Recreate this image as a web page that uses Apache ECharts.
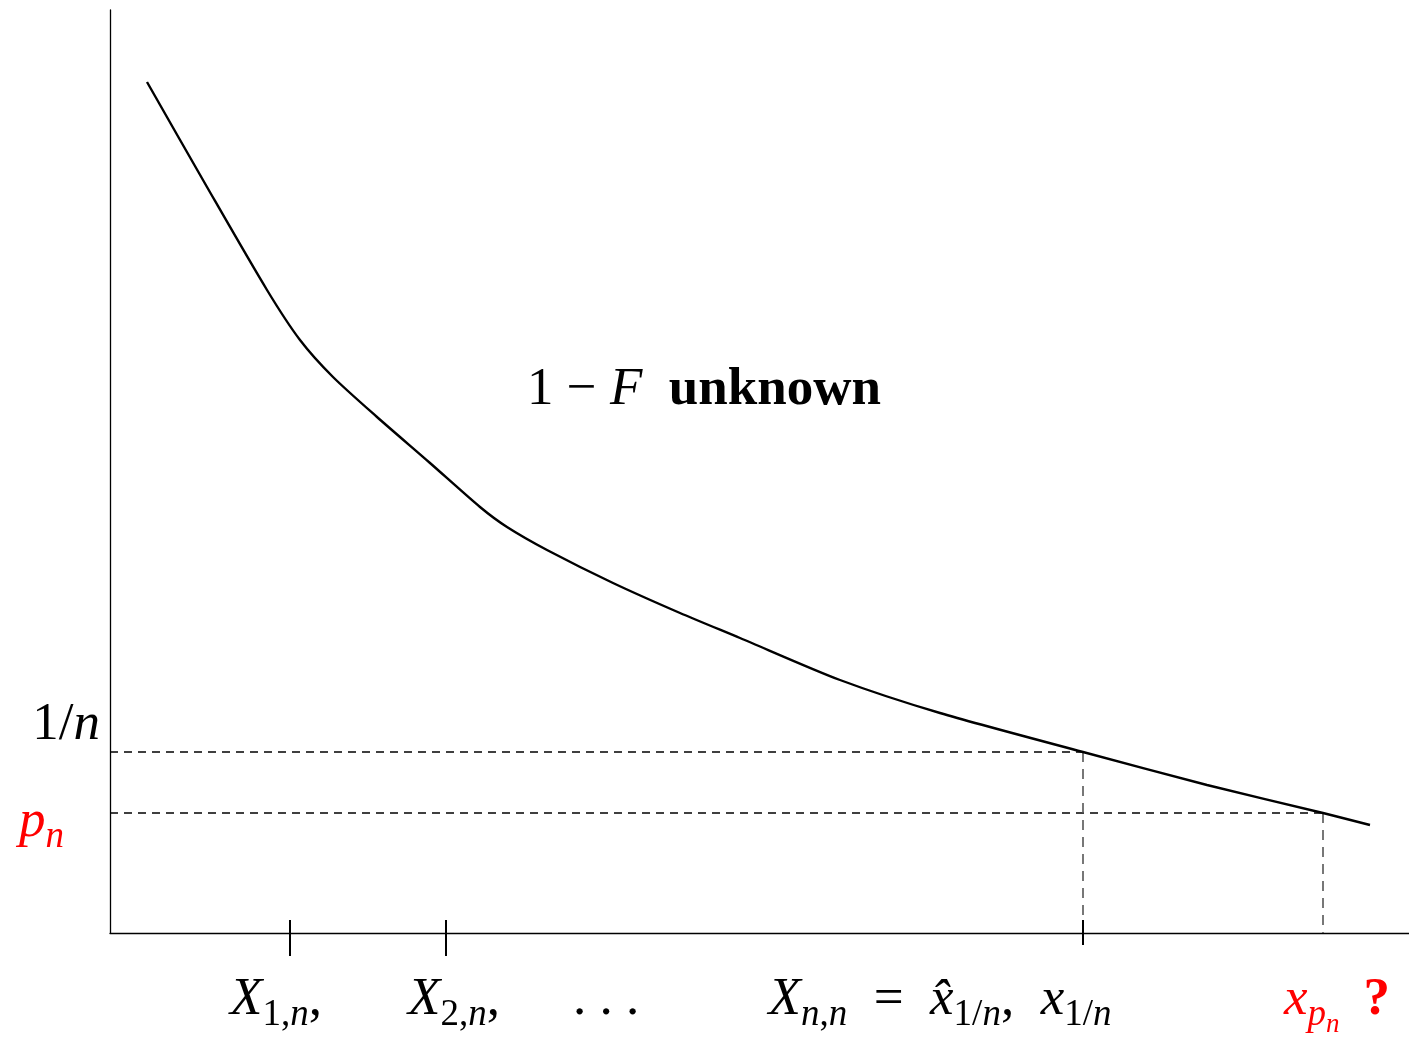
<!DOCTYPE html>
<html>
<head>
<meta charset="utf-8">
<script src="https://cdn.jsdelivr.net/npm/echarts@6/dist/echarts.min.js"></script>
<style>html,body{margin:0;padding:0;background:#fff;}#chart{width:1409px;height:1039px;}</style>
</head>
<body>
<div id="chart"></div>
<script>
// ---- data (units; x from the vertical axis, y up from the horizontal axis) ----
const curveX = [37, 97, 157, 190, 223, 267, 320, 370, 397, 437, 503, 570, 630, 730, 830, 973, 1097, 1213, 1260];
const curveY = [851, 746, 643, 593, 556, 516, 470, 426, 406, 383, 350, 320, 295, 253, 220, 181, 148, 120, 108];
const xMax = 1299;
const yMax = 923;
const levelOneOverN = 181;   // 1/n
const levelPn = 120;         // p_n
const xX1n = 180;            // X_{1,n}
const xX2n = 336;            // X_{2,n}
const xDots = 496;           // ...
const xXnn = 973;            // X_{n,n} = x̂_{1/n}, x_{1/n}
const xXpn = 1213;           // x_{p_n}
const tickXs = [xX1n, xX2n, xXnn];
const annotationPoint = [594, 543];

const FONT = '"Liberation Serif", "DejaVu Serif", serif';
const BIG = 53, SUB = 37, SUBSUB = 27;

function richStyles(color) {
  return {
    m:  {fontFamily: FONT, fontStyle: 'italic', fontSize: BIG, color: color, lineHeight: 60},
    r:  {fontFamily: FONT, fontSize: BIG, color: color, lineHeight: 60},
    b:  {fontFamily: FONT, fontWeight: 'bold', fontSize: BIG, color: color, lineHeight: 60},
    s:  {fontFamily: FONT, fontStyle: 'italic', fontSize: SUB, color: color, lineHeight: SUB, padding: [30, 0, 0, 0]},
    sr: {fontFamily: FONT, fontSize: SUB, color: color, lineHeight: SUB, padding: [30, 0, 0, 0]},
    ss: {fontFamily: FONT, fontStyle: 'italic', fontSize: SUBSUB, color: color, lineHeight: SUBSUB, padding: [50, 0, 0, 0]},
    q:  {fontFamily: FONT, fontWeight: 'bold', fontSize: BIG, color: color, lineHeight: 60}
  };
}
const RB = richStyles('#000000');
const RR = richStyles('#ff0000');
const rich = {
  m: RB.m, r: RB.r, b: RB.b, s: RB.s, sr: RB.sr, ss: RB.ss,
  rm: RR.m, rs: RR.s, rss: RR.ss,
  q: Object.assign({}, RR.q, {padding: [0, 0, 0, 24]})
};

function textLabel(formatter, align, offset) {
  return {
    show: true, position: 'inside', align: align, verticalAlign: 'middle',
    offset: offset, formatter: formatter, rich: rich, color: '#000000', opacity: 1
  };
}

const labelItems = [
  {value: [0, levelOneOverN], label: textLabel('{r|1/}{m|n}', 'right', [-10, -27])},
  {value: [0, levelPn], label: textLabel('{rm|p}{rs|n}', 'right', [-46, 9])},
  {value: [xX1n, 0], label: textLabel('{m|X}{sr|1,}{s|n}{r|,}', 'center', [-14, 67])},
  {value: [xX2n, 0], label: textLabel('{m|X}{sr|2,}{s|n}{r|,}', 'center', [8, 67])},
  {value: [xDots, 0], label: textLabel('{r|. . .}', 'center', [0, 67])},
  {value: [xXnn, 0], label: textLabel('{m|X}{s|n}{sr|,}{s|n}{r|  =  }{m|x\u0302}{sr|1/}{s|n}{r|,  }{m|x}{sr|1/}{s|n}', 'center', [-143, 67])},
  {value: [xXpn, 0], label: textLabel('{rm|x}{rs|p}{rss|n}{q|?}', 'center', [14, 67])},
  {value: annotationPoint, label: textLabel('{r|1 \u2212 }{m|F}{r|  }{b|unknown}', 'center', [0, 0])}
];

const chart = echarts.init(document.getElementById('chart'), null, {renderer: 'canvas'});
const curveData = curveX.map((x, i) => [x, curveY[i]]);

chart.setOption({
  animation: false,
  backgroundColor: '#fff',
  grid: {left: 110, top: 10, width: xMax, height: yMax, containLabel: false},
  xAxis: {
    type: 'value', min: 0, max: xMax,
    axisLine: {show: true, onZero: false, lineStyle: {color: '#000', width: 1.3}},
    axisTick: {show: false},
    splitLine: {show: false},
    axisLabel: {show: false}
  },
  yAxis: {
    type: 'value', min: 0, max: yMax,
    axisLine: {show: true, onZero: false, lineStyle: {color: '#000', width: 1.3}},
    axisTick: {show: false},
    splitLine: {show: false},
    axisLabel: {show: false}
  },
  series: [
    {
      type: 'line',
      data: curveData,
      smooth: 0.25,
      showSymbol: false,
      lineStyle: {color: '#000', width: 2.4},
      z: 5
    },
    {
      type: 'line',
      data: [[0, levelOneOverN], [xXnn, levelOneOverN]],
      showSymbol: false,
      lineStyle: {color: '#000', width: 1.4, type: [8, 6]},
      z: 3
    },
    {
      type: 'line',
      data: [[0, levelPn], [xXpn, levelPn]],
      showSymbol: false,
      lineStyle: {color: '#000', width: 1.4, type: [8, 6]},
      z: 3
    },
    {
      type: 'line',
      data: [[xXnn, levelOneOverN], [xXnn, 0]],
      showSymbol: false,
      lineStyle: {color: '#555', width: 1.6, type: [10, 7]},
      z: 3
    },
    {
      type: 'line',
      data: [[xXpn, levelPn], [xXpn, 0]],
      showSymbol: false,
      lineStyle: {color: '#555', width: 1.6, type: [10, 7]},
      z: 3
    },
    {
      type: 'custom',
      clip: false,
      data: tickXs.map(x => [x, 0]),
      renderItem: function (params, api) {
        const p = api.coord([api.value(0), api.value(1)]);
        const below = params.dataIndex < 2 ? 23 : 12;
        return {
          type: 'line',
          shape: {x1: p[0], y1: p[1] - 13, x2: p[0], y2: p[1] + below},
          style: {stroke: '#000', lineWidth: 2}
        };
      },
      z: 6
    },
    {
      type: 'scatter',
      clip: false,
      silent: true,
      symbolSize: 0,
      itemStyle: {color: '#ffffff', opacity: 1},
      data: labelItems,
      z: 7
    }
  ]
});
</script>
</body>
</html>
